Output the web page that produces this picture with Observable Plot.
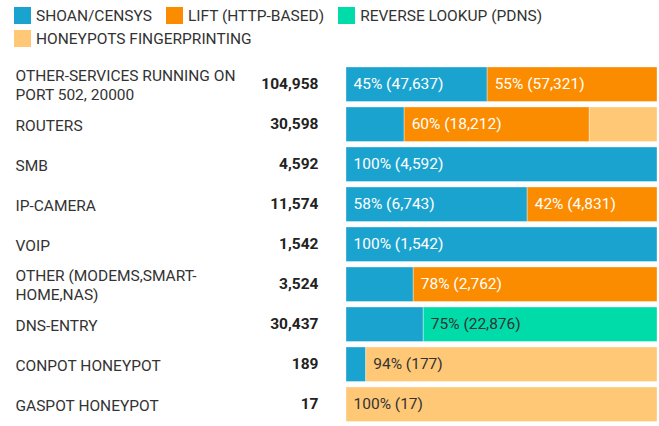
<!DOCTYPE html>
<html>
<head>
<meta charset="utf-8">
<script src="https://cdn.jsdelivr.net/npm/d3@7"></script>
<script src="https://cdn.jsdelivr.net/npm/@observablehq/plot@0.6"></script>
<style>
  html, body { margin: 0; padding: 0; background: #fff; }
  body { font-family: Roboto, sans-serif; color: #333; width: 659px; }
  #legend { display: flex; flex-wrap: wrap; gap: 5px 14px; padding: 7px 0 0 14px; height: 48px; box-sizing: border-box; font-size: 15.5px; }
  .item { display: flex; align-items: center; height: 17px; }
  .sw { width: 17px; height: 17px; margin-right: 5px; }
  #chart svg { display: block; }
</style>
</head>
<body>
<div id="legend"></div>
<div id="chart"></div>
<script>
const categories = [
  "OTHER-SERVICES RUNNING ON\nPORT 502, 20000",
  "ROUTERS",
  "SMB",
  "IP-CAMERA",
  "VOIP",
  "OTHER (MODEMS,SMART-\nHOME,NAS)",
  "DNS-ENTRY",
  "CONPOT HONEYPOT",
  "GASPOT HONEYPOT"
];
const totals   = [104958, 30598, 4592, 11574, 1542, 3524, 30437, 189, 17];
const series   = ["SHOAN/CENSYS", "LIFT (HTTP-BASED)", "REVERSE LOOKUP (PDNS)", "HONEYPOTS FINGERPRINTING"];
const colors   = ["#1ba3cf", "#fb8c00", "#00dca9", "#ffc876"];
const textColors = ["#fff", "#fff", "#333", "#333"];
const shodan   = [47637, 5722, 4592, 6743, 1542, 762, 7561, 12, 0];
const lift     = [57321, 18212, 0, 4831, 0, 2762, 0, 0, 0];
const pdns     = [0, 0, 0, 0, 0, 0, 22876, 0, 0];
const honeypot = [0, 6664, 0, 0, 0, 0, 0, 177, 17];
const seriesValues = [shodan, lift, pdns, honeypot];

// legend
const legend = document.getElementById("legend");
series.forEach((s, i) => {
  const it = document.createElement("div");
  it.className = "item";
  it.innerHTML = `<span class="sw" style="background:${colors[i]}"></span><span>${s}</span>`;
  legend.appendChild(it);
});

// build segments
const segs = [];
categories.forEach((c, r) => {
  const tot = seriesValues.reduce((a, v) => a + v[r], 0);
  let acc = 0;
  seriesValues.forEach((vals, si) => {
    const v = vals[r];
    if (v > 0) {
      const x1 = acc / tot, x2 = (acc + v) / tot;
      segs.push({cat: c, series: series[si], x1, x2, frac: v / tot, value: v,
        label: (v / tot >= 0.3) ? `${Math.round(100 * v / tot)}% (${d3.format(",")(v)})` : "",
        tcolor: textColors[si]});
      acc += v;
    }
  });
});
const rows = categories.map((c, i) => ({cat: c, total: totals[i]}));

const plot = Plot.plot({
  width: 659,
  height: 378,
  marginLeft: 346,
  marginRight: 2,
  marginTop: 14,
  marginBottom: 0,
  style: {fontFamily: "Roboto, sans-serif", fontSize: "15.5px", color: "#333", background: "#fff"},
  x: {domain: [0, 1], axis: null},
  y: {domain: categories, axis: null, padding: 0},
  color: {domain: series, range: colors},
  marks: [
    Plot.barX(segs, {x1: "x1", x2: "x2", y: "cat", fill: "series", stroke: "#fff", strokeOpacity: 0.35, strokeWidth: 1, insetTop: 3, insetBottom: 2.5}),
    Plot.text(segs, {x: "x1", y: "cat", text: "label", fill: "tcolor", textAnchor: "start", dx: 7, fontSize: 15.5, ariaLabel: "bar-label"}),
    Plot.text(rows, {y: "cat", text: "cat", frameAnchor: "left", textAnchor: "start", dx: -331, fontSize: 15.5, fill: "#333", lineHeight: 1.23}),
    Plot.text(rows, {y: "cat", text: d => d3.format(",")(d.total), frameAnchor: "left", textAnchor: "end", dx: -28, fontSize: 15.5, fontWeight: "bold", fill: "#222"})
  ]
});
document.getElementById("chart").appendChild(plot);

// split bar labels into percent + value parts
d3.select(plot).selectAll('g[aria-label="bar-label"] text').each(function () {
  const t = this.textContent;
  if (!t) return;
  const k = t.indexOf(" ");
  const sel = d3.select(this);
  sel.text(null);
  sel.append("tspan").text(t.slice(0, k));
  sel.append("tspan").attr("fill-opacity", 0.7).text(t.slice(k));
});
</script>
</body>
</html>
